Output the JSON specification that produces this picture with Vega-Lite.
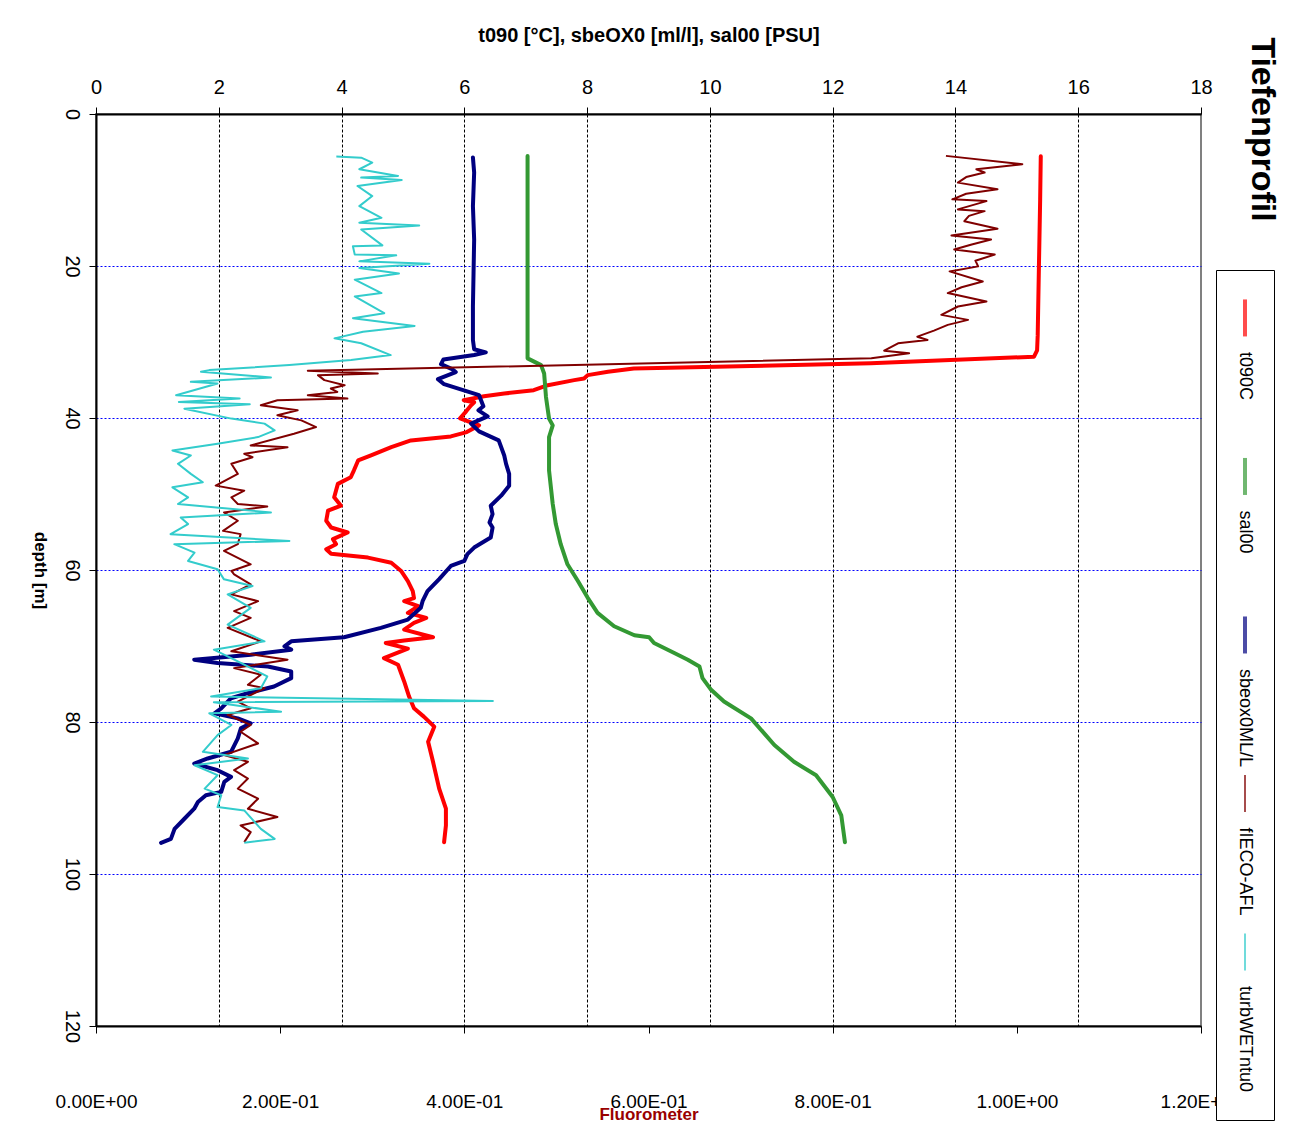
{
  "$schema": "https://vega.github.io/schema/vega-lite/v6.json",
  "background": "white",
  "padding": {"left": 30, "top": 24, "right": 5, "bottom": 5},
  "config": {
    "font": "Liberation Sans",
    "view": {"stroke": null},
    "axis": {"labelFont": "Liberation Sans", "titleFont": "Liberation Sans", "labelColor": "black", "titleColor": "black", "tickColor": "black", "domainColor": "black"}
  },
  "datasets": {
    "legend": [{"s": "t090C"}, {"s": "sal00"}, {"s": "sbeox0ML/L"}, {"s": "fIECO-AFL"}, {"s": "turbWETntu0"}],
    "profile": [
      {"s":"t090C","d":5.55,"v":15.39},{"s":"t090C","d":11.2,"v":15.38},{"s":"t090C","d":20.0,"v":15.36},{"s":"t090C","d":29.1,"v":15.34},{"s":"t090C","d":31.1,"v":15.33},{"s":"t090C","d":31.93,"v":15.28},{"s":"t090C","d":32.81,"v":12.62},{"s":"t090C","d":33.17,"v":10.67},{"s":"t090C","d":33.48,"v":8.76},{"s":"t090C","d":33.92,"v":8.34},{"s":"t090C","d":34.36,"v":8.01},{"s":"t090C","d":34.8,"v":7.95},{"s":"t090C","d":35.02,"v":7.79},{"s":"t090C","d":35.68,"v":7.36},{"s":"t090C","d":36.34,"v":7.13},{"s":"t090C","d":36.78,"v":6.65},{"s":"t090C","d":37.14,"v":6.32},{"s":"t090C","d":37.66,"v":5.99},{"s":"t090C","d":37.93,"v":6.16},{"s":"t090C","d":38.33,"v":6.11},{"s":"t090C","d":39.12,"v":6.03},{"s":"t090C","d":40.04,"v":5.93},{"s":"t090C","d":40.97,"v":6.24},{"s":"t090C","d":41.85,"v":6.04},{"s":"t090C","d":42.42,"v":5.78},{"s":"t090C","d":42.95,"v":5.13},{"s":"t090C","d":43.84,"v":4.81},{"s":"t090C","d":44.93,"v":4.48},{"s":"t090C","d":45.59,"v":4.27},{"s":"t090C","d":46.92,"v":4.2},{"s":"t090C","d":47.8,"v":4.15},{"s":"t090C","d":48.67,"v":3.94},{"s":"t090C","d":50.44,"v":3.88},{"s":"t090C","d":51.54,"v":3.99},{"s":"t090C","d":52.2,"v":3.78},{"s":"t090C","d":53.52,"v":3.75},{"s":"t090C","d":54.41,"v":3.83},{"s":"t090C","d":55.07,"v":4.1},{"s":"t090C","d":55.94,"v":3.86},{"s":"t090C","d":56.6,"v":3.91},{"s":"t090C","d":57.26,"v":3.75},{"s":"t090C","d":57.85,"v":3.83},{"s":"t090C","d":58.37,"v":4.43},{"s":"t090C","d":59.04,"v":4.81},{"s":"t090C","d":60.13,"v":4.97},{"s":"t090C","d":61.45,"v":5.08},{"s":"t090C","d":62.77,"v":5.16},{"s":"t090C","d":63.7,"v":5.18},{"s":"t090C","d":64.1,"v":5.02},{"s":"t090C","d":64.76,"v":5.25},{"s":"t090C","d":65.64,"v":5.08},{"s":"t090C","d":66.3,"v":5.38},{"s":"t090C","d":66.96,"v":5.18},{"s":"t090C","d":67.84,"v":5.02},{"s":"t090C","d":68.85,"v":5.49},{"s":"t090C","d":69.29,"v":5.02},{"s":"t090C","d":69.61,"v":4.72},{"s":"t090C","d":70.35,"v":5.08},{"s":"t090C","d":71.59,"v":4.69},{"s":"t090C","d":72.46,"v":4.92},{"s":"t090C","d":74.67,"v":5.02},{"s":"t090C","d":76.65,"v":5.1},{"s":"t090C","d":78.2,"v":5.18},{"s":"t090C","d":79.29,"v":5.34},{"s":"t090C","d":80.61,"v":5.51},{"s":"t090C","d":82.6,"v":5.41},{"s":"t090C","d":85.24,"v":5.49},{"s":"t090C","d":88.77,"v":5.59},{"s":"t090C","d":91.41,"v":5.7},{"s":"t090C","d":93.61,"v":5.7},{"s":"t090C","d":95.81,"v":5.67},
      {"s":"sal00","d":5.51,"v":7.03},{"s":"sal00","d":32.15,"v":7.03},{"s":"sal00","d":33.04,"v":7.25},{"s":"sal00","d":34.14,"v":7.3},{"s":"sal00","d":37.23,"v":7.33},{"s":"sal00","d":40.08,"v":7.38},{"s":"sal00","d":40.97,"v":7.44},{"s":"sal00","d":42.51,"v":7.38},{"s":"sal00","d":46.91,"v":7.38},{"s":"sal00","d":51.32,"v":7.44},{"s":"sal00","d":53.96,"v":7.49},{"s":"sal00","d":56.6,"v":7.57},{"s":"sal00","d":59.25,"v":7.68},{"s":"sal00","d":61.45,"v":7.85},{"s":"sal00","d":63.66,"v":8.01},{"s":"sal00","d":65.64,"v":8.17},{"s":"sal00","d":67.4,"v":8.44},{"s":"sal00","d":68.59,"v":8.77},{"s":"sal00","d":68.85,"v":9.01},{"s":"sal00","d":69.61,"v":9.09},{"s":"sal00","d":70.93,"v":9.42},{"s":"sal00","d":71.8,"v":9.64},{"s":"sal00","d":72.69,"v":9.83},{"s":"sal00","d":74.23,"v":9.88},{"s":"sal00","d":75.77,"v":10.02},{"s":"sal00","d":77.31,"v":10.23},{"s":"sal00","d":79.52,"v":10.67},{"s":"sal00","d":83.03,"v":11.05},{"s":"sal00","d":85.24,"v":11.37},{"s":"sal00","d":87.0,"v":11.73},{"s":"sal00","d":89.87,"v":12.0},{"s":"sal00","d":92.28,"v":12.14},{"s":"sal00","d":95.81,"v":12.2},
      {"s":"sbeox0ML/L","d":5.72,"v":6.14},{"s":"sbeox0ML/L","d":7.7,"v":6.16},{"s":"sbeox0ML/L","d":12.12,"v":6.14},{"s":"sbeox0ML/L","d":16.52,"v":6.16},{"s":"sbeox0ML/L","d":20.92,"v":6.15},{"s":"sbeox0ML/L","d":25.33,"v":6.14},{"s":"sbeox0ML/L","d":29.74,"v":6.14},{"s":"sbeox0ML/L","d":30.96,"v":6.16},{"s":"sbeox0ML/L","d":31.36,"v":6.35},{"s":"sbeox0ML/L","d":31.72,"v":6.16},{"s":"sbeox0ML/L","d":32.29,"v":5.66},{"s":"sbeox0ML/L","d":32.91,"v":5.62},{"s":"sbeox0ML/L","d":33.57,"v":5.8},{"s":"sbeox0ML/L","d":33.96,"v":5.86},{"s":"sbeox0ML/L","d":34.89,"v":5.57},{"s":"sbeox0ML/L","d":35.55,"v":5.67},{"s":"sbeox0ML/L","d":37.0,"v":6.24},{"s":"sbeox0ML/L","d":38.46,"v":6.31},{"s":"sbeox0ML/L","d":38.99,"v":6.23},{"s":"sbeox0ML/L","d":39.78,"v":6.38},{"s":"sbeox0ML/L","d":40.74,"v":6.11},{"s":"sbeox0ML/L","d":41.76,"v":6.24},{"s":"sbeox0ML/L","d":42.95,"v":6.56},{"s":"sbeox0ML/L","d":44.93,"v":6.65},{"s":"sbeox0ML/L","d":46.03,"v":6.68},{"s":"sbeox0ML/L","d":47.35,"v":6.73},{"s":"sbeox0ML/L","d":48.9,"v":6.73},{"s":"sbeox0ML/L","d":50.22,"v":6.6},{"s":"sbeox0ML/L","d":51.54,"v":6.43},{"s":"sbeox0ML/L","d":52.64,"v":6.46},{"s":"sbeox0ML/L","d":53.75,"v":6.41},{"s":"sbeox0ML/L","d":54.41,"v":6.46},{"s":"sbeox0ML/L","d":55.73,"v":6.43},{"s":"sbeox0ML/L","d":57.05,"v":6.16},{"s":"sbeox0ML/L","d":57.92,"v":6.05},{"s":"sbeox0ML/L","d":58.81,"v":6.0},{"s":"sbeox0ML/L","d":59.47,"v":5.78},{"s":"sbeox0ML/L","d":61.19,"v":5.59},{"s":"sbeox0ML/L","d":62.77,"v":5.4},{"s":"sbeox0ML/L","d":64.1,"v":5.32},{"s":"sbeox0ML/L","d":64.98,"v":5.29},{"s":"sbeox0ML/L","d":66.52,"v":5.08},{"s":"sbeox0ML/L","d":67.62,"v":4.64},{"s":"sbeox0ML/L","d":68.85,"v":4.04},{"s":"sbeox0ML/L","d":69.38,"v":3.18},{"s":"sbeox0ML/L","d":70.04,"v":3.07},{"s":"sbeox0ML/L","d":70.48,"v":3.18},{"s":"sbeox0ML/L","d":71.14,"v":2.52},{"s":"sbeox0ML/L","d":71.8,"v":1.6},{"s":"sbeox0ML/L","d":72.25,"v":1.98},{"s":"sbeox0ML/L","d":72.69,"v":2.8},{"s":"sbeox0ML/L","d":73.35,"v":3.18},{"s":"sbeox0ML/L","d":74.23,"v":3.18},{"s":"sbeox0ML/L","d":75.33,"v":2.9},{"s":"sbeox0ML/L","d":76.21,"v":2.47},{"s":"sbeox0ML/L","d":76.87,"v":2.2},{"s":"sbeox0ML/L","d":78.2,"v":2.04},{"s":"sbeox0ML/L","d":78.86,"v":1.93},{"s":"sbeox0ML/L","d":79.52,"v":2.31},{"s":"sbeox0ML/L","d":80.18,"v":2.52},{"s":"sbeox0ML/L","d":80.84,"v":2.36},{"s":"sbeox0ML/L","d":82.16,"v":2.31},{"s":"sbeox0ML/L","d":83.92,"v":2.2},{"s":"sbeox0ML/L","d":84.8,"v":1.82},{"s":"sbeox0ML/L","d":85.47,"v":1.6},{"s":"sbeox0ML/L","d":86.34,"v":1.98},{"s":"sbeox0ML/L","d":87.22,"v":2.2},{"s":"sbeox0ML/L","d":87.88,"v":2.09},{"s":"sbeox0ML/L","d":89.2,"v":2.04},{"s":"sbeox0ML/L","d":89.64,"v":1.79},{"s":"sbeox0ML/L","d":90.53,"v":1.66},{"s":"sbeox0ML/L","d":91.41,"v":1.6},{"s":"sbeox0ML/L","d":92.73,"v":1.44},{"s":"sbeox0ML/L","d":94.06,"v":1.28},{"s":"sbeox0ML/L","d":95.38,"v":1.22},{"s":"sbeox0ML/L","d":95.9,"v":1.06},
      {"s":"fIECO-AFL","d":5.51,"v":0.923},{"s":"fIECO-AFL","d":6.61,"v":1.006},{"s":"fIECO-AFL","d":7.27,"v":0.956},{"s":"fIECO-AFL","d":7.7,"v":0.965},{"s":"fIECO-AFL","d":8.3,"v":0.945},{"s":"fIECO-AFL","d":9.03,"v":0.936},{"s":"fIECO-AFL","d":9.91,"v":0.979},{"s":"fIECO-AFL","d":10.5,"v":0.945},{"s":"fIECO-AFL","d":11.23,"v":0.93},{"s":"fIECO-AFL","d":11.46,"v":0.967},{"s":"fIECO-AFL","d":12.55,"v":0.936},{"s":"fIECO-AFL","d":12.78,"v":0.965},{"s":"fIECO-AFL","d":13.4,"v":0.948},{"s":"fIECO-AFL","d":14.1,"v":0.943},{"s":"fIECO-AFL","d":15.11,"v":0.979},{"s":"fIECO-AFL","d":15.99,"v":0.929},{"s":"fIECO-AFL","d":16.52,"v":0.972},{"s":"fIECO-AFL","d":17.2,"v":0.95},{"s":"fIECO-AFL","d":17.84,"v":0.932},{"s":"fIECO-AFL","d":18.5,"v":0.976},{"s":"fIECO-AFL","d":19.3,"v":0.955},{"s":"fIECO-AFL","d":20.05,"v":0.958},{"s":"fIECO-AFL","d":20.71,"v":0.927},{"s":"fIECO-AFL","d":22.03,"v":0.963},{"s":"fIECO-AFL","d":22.8,"v":0.94},{"s":"fIECO-AFL","d":23.56,"v":0.925},{"s":"fIECO-AFL","d":24.67,"v":0.967},{"s":"fIECO-AFL","d":25.33,"v":0.936},{"s":"fIECO-AFL","d":26.43,"v":0.918},{"s":"fIECO-AFL","d":27.09,"v":0.947},{"s":"fIECO-AFL","d":27.75,"v":0.925},{"s":"fIECO-AFL","d":28.5,"v":0.91},{"s":"fIECO-AFL","d":29.3,"v":0.892},{"s":"fIECO-AFL","d":29.74,"v":0.903},{"s":"fIECO-AFL","d":30.17,"v":0.871},{"s":"fIECO-AFL","d":31.15,"v":0.856},{"s":"fIECO-AFL","d":31.49,"v":0.883},{"s":"fIECO-AFL","d":32.15,"v":0.842},{"s":"fIECO-AFL","d":33.79,"v":0.23},{"s":"fIECO-AFL","d":34.14,"v":0.306},{"s":"fIECO-AFL","d":34.36,"v":0.241},{"s":"fIECO-AFL","d":35.02,"v":0.248},{"s":"fIECO-AFL","d":35.68,"v":0.27},{"s":"fIECO-AFL","d":36.12,"v":0.255},{"s":"fIECO-AFL","d":36.57,"v":0.262},{"s":"fIECO-AFL","d":37.0,"v":0.23},{"s":"fIECO-AFL","d":37.44,"v":0.273},{"s":"fIECO-AFL","d":37.66,"v":0.197},{"s":"fIECO-AFL","d":38.33,"v":0.179},{"s":"fIECO-AFL","d":38.99,"v":0.219},{"s":"fIECO-AFL","d":39.65,"v":0.197},{"s":"fIECO-AFL","d":40.31,"v":0.223},{"s":"fIECO-AFL","d":41.19,"v":0.239},{"s":"fIECO-AFL","d":42.07,"v":0.215},{"s":"fIECO-AFL","d":43.61,"v":0.168},{"s":"fIECO-AFL","d":43.84,"v":0.208},{"s":"fIECO-AFL","d":44.71,"v":0.161},{"s":"fIECO-AFL","d":45.16,"v":0.17},{"s":"fIECO-AFL","d":46.03,"v":0.147},{"s":"fIECO-AFL","d":47.35,"v":0.154},{"s":"fIECO-AFL","d":48.9,"v":0.13},{"s":"fIECO-AFL","d":49.56,"v":0.161},{"s":"fIECO-AFL","d":50.44,"v":0.147},{"s":"fIECO-AFL","d":51.32,"v":0.154},{"s":"fIECO-AFL","d":51.63,"v":0.186},{"s":"fIECO-AFL","d":52.43,"v":0.139},{"s":"fIECO-AFL","d":53.52,"v":0.154},{"s":"fIECO-AFL","d":54.85,"v":0.138},{"s":"fIECO-AFL","d":55.28,"v":0.157},{"s":"fIECO-AFL","d":56.6,"v":0.154},{"s":"fIECO-AFL","d":57.49,"v":0.139},{"s":"fIECO-AFL","d":59.25,"v":0.168},{"s":"fIECO-AFL","d":60.13,"v":0.147},{"s":"fIECO-AFL","d":60.57,"v":0.15},{"s":"fIECO-AFL","d":61.89,"v":0.168},{"s":"fIECO-AFL","d":63.21,"v":0.147},{"s":"fIECO-AFL","d":64.1,"v":0.176},{"s":"fIECO-AFL","d":65.42,"v":0.15},{"s":"fIECO-AFL","d":66.3,"v":0.168},{"s":"fIECO-AFL","d":67.62,"v":0.143},{"s":"fIECO-AFL","d":69.38,"v":0.179},{"s":"fIECO-AFL","d":70.7,"v":0.147},{"s":"fIECO-AFL","d":71.8,"v":0.208},{"s":"fIECO-AFL","d":72.91,"v":0.15},{"s":"fIECO-AFL","d":73.78,"v":0.179},{"s":"fIECO-AFL","d":75.11,"v":0.165},{"s":"fIECO-AFL","d":75.55,"v":0.183},{"s":"fIECO-AFL","d":77.31,"v":0.154},{"s":"fIECO-AFL","d":78.2,"v":0.168},{"s":"fIECO-AFL","d":79.07,"v":0.143},{"s":"fIECO-AFL","d":80.39,"v":0.168},{"s":"fIECO-AFL","d":81.28,"v":0.157},{"s":"fIECO-AFL","d":82.82,"v":0.176},{"s":"fIECO-AFL","d":84.36,"v":0.139},{"s":"fIECO-AFL","d":85.24,"v":0.165},{"s":"fIECO-AFL","d":86.34,"v":0.15},{"s":"fIECO-AFL","d":87.44,"v":0.165},{"s":"fIECO-AFL","d":88.77,"v":0.154},{"s":"fIECO-AFL","d":90.09,"v":0.176},{"s":"fIECO-AFL","d":91.41,"v":0.165},{"s":"fIECO-AFL","d":92.51,"v":0.197},{"s":"fIECO-AFL","d":93.61,"v":0.157},{"s":"fIECO-AFL","d":94.49,"v":0.168},{"s":"fIECO-AFL","d":95.81,"v":0.161},
      {"s":"turbWETntu0","d":5.6,"v":0.261},{"s":"turbWETntu0","d":5.75,"v":0.288},{"s":"turbWETntu0","d":6.4,"v":0.3},{"s":"turbWETntu0","d":7.27,"v":0.286},{"s":"turbWETntu0","d":8.15,"v":0.328},{"s":"turbWETntu0","d":8.37,"v":0.288},{"s":"turbWETntu0","d":8.68,"v":0.332},{"s":"turbWETntu0","d":9.48,"v":0.284},{"s":"turbWETntu0","d":10.8,"v":0.3},{"s":"turbWETntu0","d":12.12,"v":0.286},{"s":"turbWETntu0","d":13.66,"v":0.31},{"s":"turbWETntu0","d":14.32,"v":0.286},{"s":"turbWETntu0","d":14.67,"v":0.351},{"s":"turbWETntu0","d":15.2,"v":0.288},{"s":"turbWETntu0","d":17.29,"v":0.311},{"s":"turbWETntu0","d":17.4,"v":0.279},{"s":"turbWETntu0","d":18.5,"v":0.281},{"s":"turbWETntu0","d":18.6,"v":0.326},{"s":"turbWETntu0","d":19.39,"v":0.286},{"s":"turbWETntu0","d":19.69,"v":0.362},{"s":"turbWETntu0","d":20.26,"v":0.286},{"s":"turbWETntu0","d":21.0,"v":0.329},{"s":"turbWETntu0","d":21.8,"v":0.281},{"s":"turbWETntu0","d":23.56,"v":0.31},{"s":"turbWETntu0","d":24.01,"v":0.281},{"s":"turbWETntu0","d":26.21,"v":0.313},{"s":"turbWETntu0","d":26.87,"v":0.279},{"s":"turbWETntu0","d":27.89,"v":0.346},{"s":"turbWETntu0","d":28.64,"v":0.29},{"s":"turbWETntu0","d":29.52,"v":0.259},{"s":"turbWETntu0","d":30.17,"v":0.288},{"s":"turbWETntu0","d":31.72,"v":0.32},{"s":"turbWETntu0","d":32.38,"v":0.277},{"s":"turbWETntu0","d":33.04,"v":0.21},{"s":"turbWETntu0","d":33.7,"v":0.123},{"s":"turbWETntu0","d":33.92,"v":0.114},{"s":"turbWETntu0","d":34.67,"v":0.19},{"s":"turbWETntu0","d":35.24,"v":0.103},{"s":"turbWETntu0","d":35.46,"v":0.132},{"s":"turbWETntu0","d":37.0,"v":0.087},{"s":"turbWETntu0","d":37.44,"v":0.156},{"s":"turbWETntu0","d":37.88,"v":0.09},{"s":"turbWETntu0","d":38.2,"v":0.167},{"s":"turbWETntu0","d":38.77,"v":0.096},{"s":"turbWETntu0","d":40.08,"v":0.147},{"s":"turbWETntu0","d":40.74,"v":0.183},{"s":"turbWETntu0","d":41.63,"v":0.194},{"s":"turbWETntu0","d":42.51,"v":0.176},{"s":"turbWETntu0","d":43.39,"v":0.132},{"s":"turbWETntu0","d":44.27,"v":0.083},{"s":"turbWETntu0","d":44.93,"v":0.103},{"s":"turbWETntu0","d":46.03,"v":0.089},{"s":"turbWETntu0","d":47.35,"v":0.103},{"s":"turbWETntu0","d":48.46,"v":0.116},{"s":"turbWETntu0","d":49.12,"v":0.083},{"s":"turbWETntu0","d":50.44,"v":0.1},{"s":"turbWETntu0","d":51.32,"v":0.089},{"s":"turbWETntu0","d":52.43,"v":0.19},{"s":"turbWETntu0","d":53.08,"v":0.092},{"s":"turbWETntu0","d":53.96,"v":0.1},{"s":"turbWETntu0","d":55.28,"v":0.081},{"s":"turbWETntu0","d":56.17,"v":0.21},{"s":"turbWETntu0","d":56.6,"v":0.085},{"s":"turbWETntu0","d":57.71,"v":0.107},{"s":"turbWETntu0","d":58.81,"v":0.1},{"s":"turbWETntu0","d":59.91,"v":0.132},{"s":"turbWETntu0","d":61.23,"v":0.139},{"s":"turbWETntu0","d":62.1,"v":0.17},{"s":"turbWETntu0","d":63.21,"v":0.143},{"s":"turbWETntu0","d":64.98,"v":0.168},{"s":"turbWETntu0","d":67.18,"v":0.143},{"s":"turbWETntu0","d":69.38,"v":0.183},{"s":"turbWETntu0","d":70.48,"v":0.128},{"s":"turbWETntu0","d":72.03,"v":0.154},{"s":"turbWETntu0","d":74.01,"v":0.186},{"s":"turbWETntu0","d":75.55,"v":0.179},{"s":"turbWETntu0","d":76.65,"v":0.125},{"s":"turbWETntu0","d":77.25,"v":0.431},{"s":"turbWETntu0","d":77.4,"v":0.128},{"s":"turbWETntu0","d":78.64,"v":0.201},{"s":"turbWETntu0","d":78.86,"v":0.123},{"s":"turbWETntu0","d":80.39,"v":0.147},{"s":"turbWETntu0","d":81.72,"v":0.132},{"s":"turbWETntu0","d":83.92,"v":0.116},{"s":"turbWETntu0","d":84.8,"v":0.165},{"s":"turbWETntu0","d":85.69,"v":0.107},{"s":"turbWETntu0","d":87.0,"v":0.132},{"s":"turbWETntu0","d":88.77,"v":0.118},{"s":"turbWETntu0","d":89.64,"v":0.136},{"s":"turbWETntu0","d":91.19,"v":0.132},{"s":"turbWETntu0","d":91.63,"v":0.161},{"s":"turbWETntu0","d":94.06,"v":0.179},{"s":"turbWETntu0","d":95.38,"v":0.194},{"s":"turbWETntu0","d":95.9,"v":0.161}
    ]
  },
  "bounds": "flush",
  "spacing": 15,
  "hconcat": [
    {
      "width": 1105,
      "height": 912,
      "view": {"stroke": "#808080", "strokeWidth": 2},
      "data": {"name": "profile"},
      "resolve": {"scale": {"x": "independent"}},
      "layer": [
        {
          "transform": [{"filter": "datum.s == 't090C' || datum.s == 'sal00' || datum.s == 'sbeox0ML/L'"}],
          "mark": {"type": "line", "strokeWidth": 4, "strokeCap": "round", "strokeJoin": "round"},
          "encoding": {
            "x": {
              "field": "v", "type": "quantitative",
              "scale": {"domain": [0, 18], "nice": false, "zero": false},
              "axis": {
                "orient": "top", "title": "t090 [°C], sbeOX0 [ml/l], sal00 [PSU]",
                "values": [0, 2, 4, 6, 8, 10, 12, 14, 16, 18],
                "grid": true, "gridColor": "black", "gridDash": [3, 2], "gridWidth": 1,
                "gridOpacity": {"condition": {"test": "datum.value == 0 || datum.value == 18", "value": 0}, "value": 1},
                "domainWidth": 2, "tickSize": 7, "tickWidth": 1,
                "labelFontSize": 20, "labelPadding": 10, "labelFlush": false,
                "titleFontSize": 20, "titleFontWeight": "bold", "titleY": -79, "titleBaseline": "middle"
              }
            },
            "y": {
              "field": "d", "type": "quantitative",
              "scale": {"domain": [0, 120], "reverse": true, "nice": false, "zero": false},
              "axis": {
                "title": "depth [m]", "values": [0, 20, 40, 60, 80, 100, 120],
                "grid": true, "gridColor": "#0000FF", "gridDash": [2, 2], "gridWidth": 1,
                "gridOpacity": {"condition": {"test": "datum.value == 0 || datum.value == 120", "value": 0}, "value": 1},
                "domainWidth": 2, "tickSize": 7, "tickWidth": 1,
                "labelAngle": 90, "labelAlign": "center", "labelBaseline": "top", "labelFontSize": 20, "labelPadding": 8,
                "titleAngle": 90, "titleFontSize": 17, "titleFontWeight": "bold", "titleX": -57, "titleAlign": "center", "titleBaseline": "middle"
              }
            },
            "color": {
              "field": "s", "type": "nominal",
              "scale": {"domain": ["t090C", "sal00", "sbeox0ML/L", "fIECO-AFL", "turbWETntu0"], "range": ["#FF0000", "#339933", "#000080", "#800000", "#33CCCC"]},
              "legend": null
            },
            "order": {"field": "d", "type": "quantitative"}
          }
        },
        {
          "transform": [{"filter": "datum.s == 'fIECO-AFL' || datum.s == 'turbWETntu0'"}],
          "mark": {"type": "line", "strokeWidth": 2, "strokeJoin": "round"},
          "encoding": {
            "x": {
              "field": "v", "type": "quantitative",
              "scale": {"domain": [0, 1.2], "nice": false, "zero": false},
              "axis": {
                "orient": "bottom", "title": "Fluorometer",
                "values": [0, 0.2, 0.4, 0.6, 0.8, 1.0, 1.2],
                "labelExpr": "replace(replace(upper(format(datum.value, '.2e')), 'E+', 'E+0'), 'E-', 'E-0')",
                "grid": false, "domainWidth": 2, "tickSize": 7, "tickWidth": 1,
                "labelFontSize": 19, "labelPadding": 59, "labelFlush": false,
                "titleColor": "#990000", "titleFontSize": 17, "titleFontWeight": "bold", "titleY": 88, "titleBaseline": "middle"
              }
            },
            "y": {"field": "d", "type": "quantitative"},
            "color": {"field": "s", "type": "nominal", "legend": null},
            "order": {"field": "d", "type": "quantitative"}
          }
        }
      ]
    },
    {
      "spacing": 15,
      "bounds": "flush",
      "vconcat": [
        {
          "width": 58,
          "height": 141,
          "view": {"stroke": null},
          "data": {"values": [{"t": "Tiefenprofil"}]},
          "mark": {"type": "text", "angle": 90, "fontSize": 34, "fontWeight": "bold", "align": "center", "baseline": "middle", "dx": -55, "dy": -17, "color": "black"},
          "encoding": {"text": {"field": "t"}}
        },
        {
          "width": 58,
          "height": 850,
          "view": {"stroke": "black", "strokeWidth": 1, "fill": "white"},
          "data": {"name": "legend"},
          "encoding": {
            "y": {"field": "s", "type": "nominal", "scale": {"type": "point", "domain": ["t090C", "sal00", "sbeox0ML/L", "fIECO-AFL", "turbWETntu0"], "padding": 0.681, "align": 0.222}, "axis": null}
          },
          "layer": [
            {
              "transform": [{"filter": "datum.s == 't090C' || datum.s == 'sal00' || datum.s == 'sbeox0ML/L'"}],
              "mark": {"type": "tick", "orient": "vertical", "thickness": 4, "size": 37},
              "encoding": {"color": {"field": "s", "type": "nominal", "scale": {"domain": ["t090C", "sal00", "sbeox0ML/L", "fIECO-AFL", "turbWETntu0"], "range": ["#FF0000", "#339933", "#000080", "#800000", "#33CCCC"]}, "legend": null}}
            },
            {
              "transform": [{"filter": "datum.s == 'fIECO-AFL' || datum.s == 'turbWETntu0'"}],
              "mark": {"type": "tick", "orient": "vertical", "thickness": 2, "size": 37},
              "encoding": {"color": {"field": "s", "type": "nominal", "legend": null}}
            },
            {
              "mark": {"type": "text", "angle": 90, "align": "left", "baseline": "middle", "dx": 34, "fontSize": 18, "color": "black"},
              "encoding": {"text": {"field": "s"}}
            }
          ]
        }
      ]
    }
  ]
}
